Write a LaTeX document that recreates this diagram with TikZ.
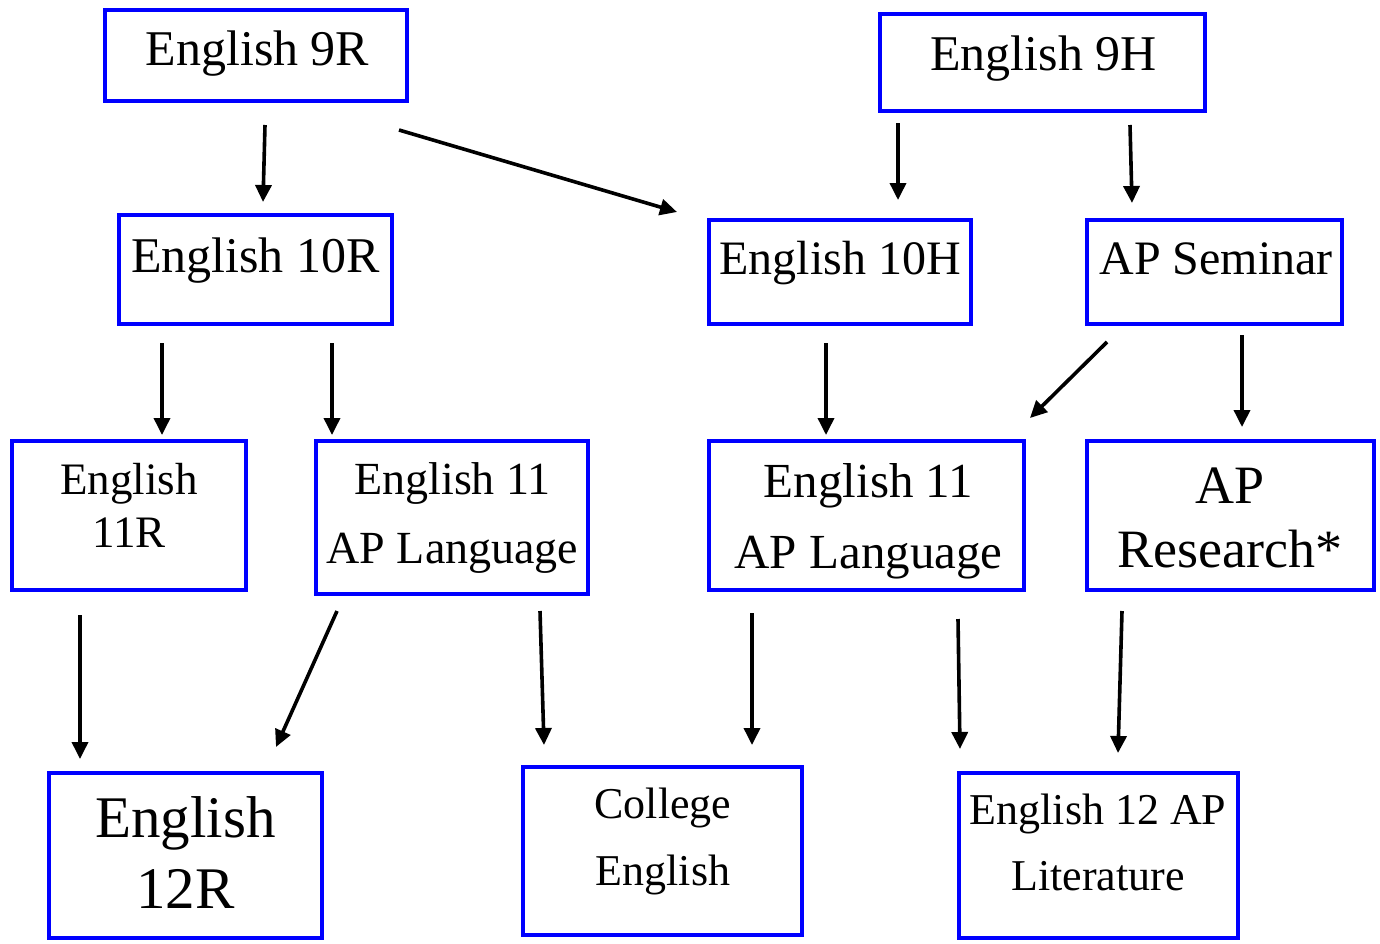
\documentclass[tikz,border=0pt]{standalone}
\usepackage{fontspec}
\setmainfont{Liberation Serif}
\usetikzlibrary{arrows.meta}
\tikzset{
  box/.style={draw={rgb,255:red,0;green,0;blue,255}, line width=4.5pt, rectangle, inner sep=0pt},
  txt/.style={inner sep=0pt, align=center, anchor=base, text=black},
  arr/.style={line width=3.6pt, -{Triangle[length=17pt,width=16pt]}},
}
\newcommand{\fs}[2]{\fontsize{#1}{#2}\selectfont}
\begin{document}
\begin{tikzpicture}[x=1pt,y=-1pt]
\useasboundingbox (0,0) rectangle (1380,943);
% boxes
\node[box, minimum width=302, minimum height=91] (b9r) at (256,55.5) {};
\node[box, minimum width=325, minimum height=97] (b9h) at (1042.5,62.5) {};
\node[box, minimum width=273, minimum height=109] (b10r) at (255.5,269.5) {};
\node[box, minimum width=262, minimum height=104] (b10h) at (840,272) {};
\node[box, minimum width=255, minimum height=104] (bsem) at (1214.5,272) {};
\node[box, minimum width=234, minimum height=149] (b11r) at (129,515.5) {};
\node[box, minimum width=272, minimum height=153] (bapl) at (452,517.5) {};
\node[box, minimum width=315, minimum height=149] (bapr) at (866.5,515.5) {};
\node[box, minimum width=287, minimum height=149] (bres) at (1230.5,515.5) {};
\node[box, minimum width=273, minimum height=165] (b12r) at (185.5,855.5) {};
\node[box, minimum width=279, minimum height=168] (bcol) at (662.5,851) {};
\node[box, minimum width=279, minimum height=165] (blit) at (1098.5,855.5) {};
% texts (base anchor = baseline of the last line)
\node[txt, font=\fs{50}{60}] (t9r) at (257.5,65) {English 9R};
\node[txt, font=\fs{50}{60}] (t9h) at (1043.5,70) {English 9H};
\node[txt, font=\fs{50}{60}] (t10r) at (255.5,272) {English 10R};
\node[txt, font=\fs{48}{58}] (t10h) at (840,274) {English 10H};
\node[txt, font=\fs{48}{58}] (tsem) at (1216,274) {AP Seminar};
\node[txt, font=\fs{45}{53}] (t11r) at (129,547) {English\\11R};
\node[txt, font=\fs{46}{69}] (tapl) at (452.5,563) {English 11\\AP Language};
\node[txt, font=\fs{49}{71}] (tapr) at (868.5,568) {English 11\\AP Language};
\node[txt, font=\fs{54}{64}] (tres) at (1230,567) {AP\\Research*};
\node[txt, font=\fs{59}{71}] (t12r) at (185.5,908) {English\\12R};
\node[txt, font=\fs{44}{67}] (tcol) at (663,885) {College\\English};
\node[txt, font=\fs{44}{66}] (tlit) at (1098,890) {English 12 AP\\Literature};
% arrow end points
\coordinate (a1s) at (265,125);  \coordinate (a1e) at (263,202);
\coordinate (a2s) at (399,130);  \coordinate (a2e) at (677,212);
\coordinate (a3s) at (898,123);  \coordinate (a3e) at (898,200);
\coordinate (a4s) at (1130,125); \coordinate (a4e) at (1132,203);
\coordinate (a5s) at (162,343);  \coordinate (a5e) at (162,435);
\coordinate (a6s) at (332,343);  \coordinate (a6e) at (332,435);
\coordinate (a7s) at (826,343);  \coordinate (a7e) at (826,435);
\coordinate (a8s) at (1107,342); \coordinate (a8e) at (1030,418);
\coordinate (a9s) at (1242,335); \coordinate (a9e) at (1242,427);
\coordinate (a10s) at (80,615);  \coordinate (a10e) at (80,759);
\coordinate (a11s) at (337,611); \coordinate (a11e) at (276,747);
\coordinate (a12s) at (540,611); \coordinate (a12e) at (544,745);
\coordinate (a13s) at (752,613); \coordinate (a13e) at (752,745);
\coordinate (a14s) at (958,619); \coordinate (a14e) at (960,749);
\coordinate (a15s) at (1122,611); \coordinate (a15e) at (1118,753);
\foreach \i in {1,...,15} { \draw[arr] (a\i s) -- (a\i e); }
\end{tikzpicture}
\end{document}
